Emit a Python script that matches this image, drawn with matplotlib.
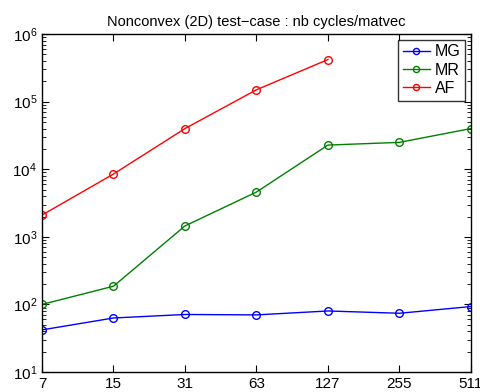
import matplotlib
matplotlib.use("Agg")
import matplotlib.pyplot as plt

plt.rcParams['font.family'] = ['Liberation Sans', 'DejaVu Sans']

sizes = ['7', '15', '31', '63', '127', '255', '511']
MG = [42, 63, 71, 70, 80, 74, 93]
MR = [100, 186, 1450, 4600, 22800, 25000, 40000]
AF = [2100, 8500, 40000, 150000, 420000]

fig = plt.figure(figsize=(4.81, 3.92), dpi=100)
ax = fig.add_axes([0.0873, 0.051, 0.8917, 0.862])

X = range(len(sizes))
ax.plot(X, MG, color='blue', marker='o', mfc='none', ms=5.5, lw=1, label='MG')
ax.plot(X, MR, color='green', marker='o', mfc='none', ms=5.5, lw=1, label='MR')
ax.plot(range(len(AF)), AF, color='red', marker='o', mfc='none', ms=5.5, lw=1, label='AF')

ax.set_yscale('log')
ax.set_ylim(10, 1e6)
ax.set_xlim(0, len(sizes) - 1)
ax.set_xticks(list(X))
ax.set_xticklabels(sizes)
ax.tick_params(which='both', direction='in', top=True, right=True, labelsize=11)
ax.tick_params(which='major', length=5)
ax.tick_params(which='minor', length=3)
for s in ax.spines.values():
    s.set_linewidth(1)
ax.set_title('Nonconvex (2D) test\u2212case : nb cycles/matvec', fontsize=10.5)

leg = ax.legend(loc='upper right', fancybox=False, edgecolor='black', fontsize=11.5,
                handlelength=1.7, handletextpad=0.3, labelspacing=0.2,
                borderpad=0.3, borderaxespad=0.35, markerscale=0.8)
leg.get_frame().set_linewidth(1)

plt.savefig('out.png', dpi=100)
